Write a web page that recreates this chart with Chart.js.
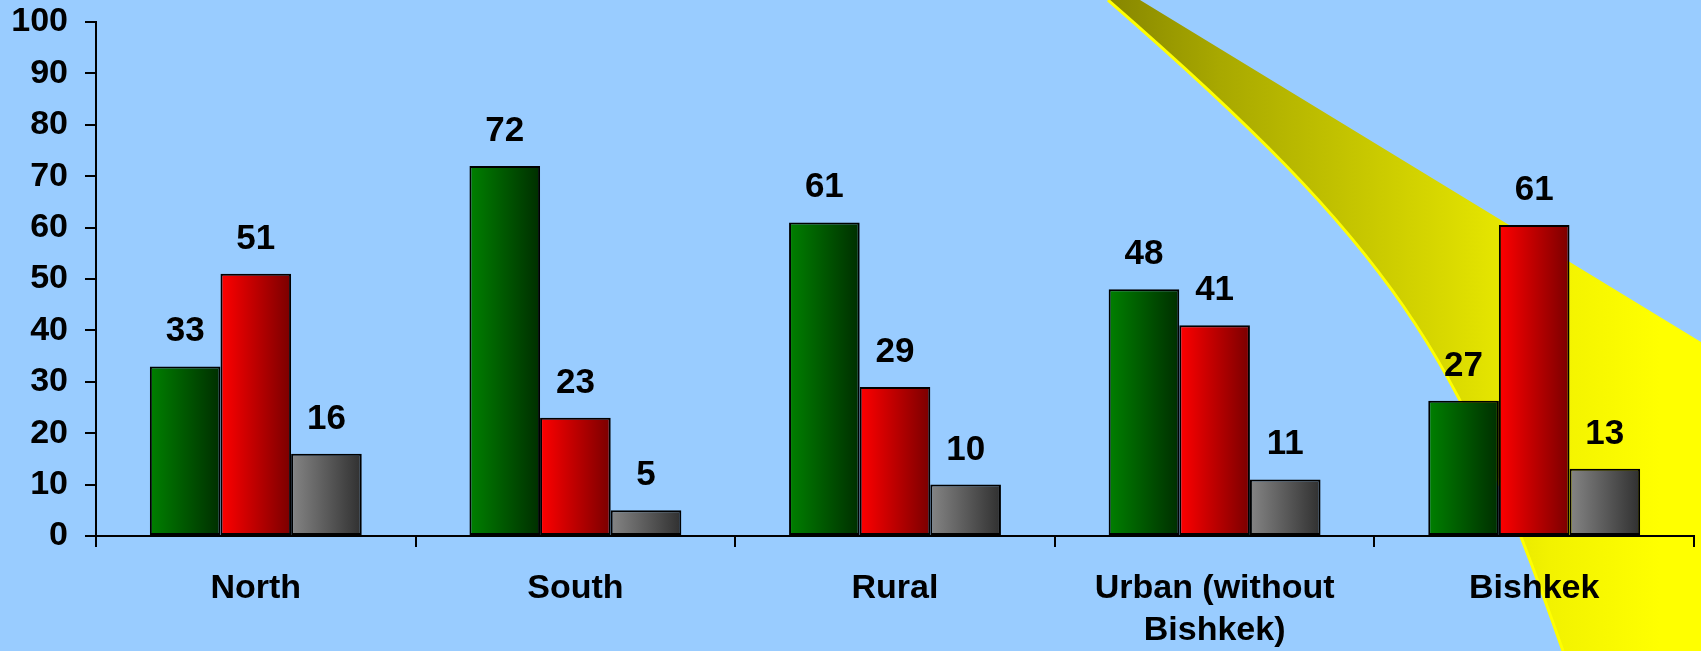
<!DOCTYPE html>
<html>
<head>
<meta charset="utf-8">
<script src="https://cdn.jsdelivr.net/npm/chart.js@4"></script>
<style>
  html, body { margin: 0; padding: 0; background: #99ccff; }
  #wrap { width: 1701px; height: 651px; }
</style>
</head>
<body>
<div id="wrap"><canvas id="myChart" width="1701" height="651"></canvas></div>
<script>
// categories and values
const categories = ["North", "South", "Rural", ["Urban (without", "Bishkek)"], "Bishkek"];
const greenValues = [33, 72, 61, 48, 26.3];
const redValues = [51, 23, 29, 41, 60.5];
const grayValues = [16, 5, 10, 11, 13.1];
// numbers printed above the bars
const greenLabels = ["33", "72", "61", "48", "27"];
const redLabels = ["51", "23", "29", "41", "61"];
const grayLabels = ["16", "5", "10", "11", "13"];
const yTicks = [0, 10, 20, 30, 40, 50, 60, 70, 80, 90, 100];

const FONT = "'Liberation Sans', Arial, sans-serif";

// horizontal gradient for each bar, left light -> right dark
function barGradient(from, to) {
    return (ctx) => {
        const el = ctx.element;
        if (!el || el.x === undefined || el.width === undefined) return from;
        const g = ctx.chart.ctx.createLinearGradient(el.x - el.width / 2, 0, el.x + el.width / 2, 0);
        g.addColorStop(0, from);
        g.addColorStop(1, to);
        return g;
    };
}

// background + the yellow beam behind the plot
const backdrop = {
    id: 'backdrop',
    beforeDraw(chart) {
        const c = chart.ctx;
        const w = chart.width, h = chart.height;
        c.save();
        c.fillStyle = '#99ccff';
        c.fillRect(0, 0, w, h);

        const g = c.createLinearGradient(1108, 0, 1660, 0);
        g.addColorStop(0, '#868600');
        g.addColorStop(0.2, '#a8a800');
        g.addColorStop(0.62, '#dada00');
        g.addColorStop(0.8, '#f2f200');
        g.addColorStop(1, '#ffff00');
        c.beginPath();
        c.moveTo(1108, 0);
        c.lineTo(1140, 0);
        c.lineTo(w, 342);
        c.lineTo(w, h);
        c.lineTo(1563, h);
        c.bezierCurveTo(1458, 351, 1395, 250, 1108, 0);
        c.closePath();
        c.fillStyle = g;
        c.fill();

        c.beginPath();
        c.moveTo(1108, 0);
        c.bezierCurveTo(1395, 250, 1458, 351, 1563, h);
        c.strokeStyle = '#ffff00';
        c.lineWidth = 3;
        c.stroke();
        c.restore();
    }
};

// value labels above bars
const valueLabels = {
    id: 'valueLabels',
    afterDatasetsDraw(chart) {
        const c = chart.ctx;
        const texts = [greenLabels, redLabels, grayLabels];
        c.save();
        c.font = "bold 35px " + FONT;
        c.fillStyle = '#000';
        c.textAlign = 'center';
        c.textBaseline = 'alphabetic';
        chart.data.datasets.forEach((ds, di) => {
            chart.getDatasetMeta(di).data.forEach((bar, i) => {
                c.fillText(texts[di][i], bar.x, bar.y - 25);
            });
        });
        c.restore();
    }
};

const chart = new Chart(document.getElementById('myChart'), {
    type: 'bar',
    data: {
        labels: categories,
        datasets: [
            { label: 'Green', data: greenValues, backgroundColor: barGradient('#008000', '#002e00') },
            { label: 'Red', data: redValues, backgroundColor: barGradient('#ff0000', '#7a0000') },
            { label: 'Gray', data: grayValues, backgroundColor: barGradient('#858585', '#303030') },
        ]
    },
    options: {
        responsive: false,
        animation: false,
        layout: { padding: { left: 0, right: 7, top: 22, bottom: 0 } },
        datasets: {
            bar: {
                categoryPercentage: 0.663,
                barPercentage: 1.0,
                borderColor: '#000',
                borderWidth: 2,
                borderSkipped: false,
            }
        },
        plugins: {
            legend: { display: false },
            tooltip: { enabled: false },
        },
        scales: {
            x: {
                afterFit: (s) => { s.height = 115; s.paddingLeft = 0; s.paddingRight = 0; },
                grid: {
                    offset: true,
                    drawOnChartArea: false,
                    tickLength: 11,
                    color: '#000',
                    lineWidth: 2,
                },
                border: { color: '#000', width: 2 },
                ticks: {
                    color: '#000',
                    font: { family: FONT, size: 34, weight: 'bold', lineHeight: 1.235 },
                    padding: 21,
                    maxRotation: 0,
                    autoSkip: false,
                },
            },
            y: {
                min: 0,
                max: 100,
                afterBuildTicks: (scale) => { scale.ticks = yTicks.map(v => ({ value: v })); },
                afterFit: (s) => { s.width = 96; s.paddingTop = 0; s.paddingBottom = 0; },
                grid: {
                    drawOnChartArea: false,
                    tickLength: 11,
                    color: '#000',
                    lineWidth: 2,
                },
                border: { color: '#000', width: 2 },
                ticks: {
                    color: '#000',
                    font: { family: FONT, size: 34, weight: 'bold' },
                    padding: 17,
                },
            }
        }
    },
    plugins: [backdrop, valueLabels]
});
// second pass so the gradients know where each bar sits
chart.update();
</script>
</body>
</html>
